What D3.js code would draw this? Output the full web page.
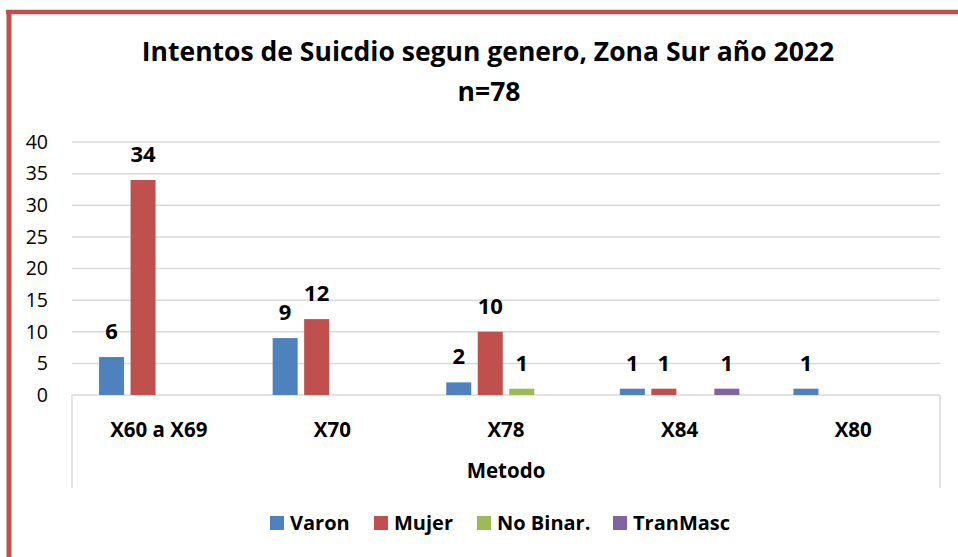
<!DOCTYPE html>
<html>
  <head>
    <meta charset="utf-8">
    <title>Intentos de Suicidio</title>
    <script src="https://d3js.org/d3.v7.min.js"></script>
    <style>
      body { margin: 0; background: #fff; }
      text { font-family: "Open Sans", Lato, sans-serif; }
    </style>
  </head>
  <body>
    <div id="chart"></div>
    <script>
      // data
      const categories = ['X60 a X69', 'X70', 'X78', 'X84', 'X80'];
      const seriesNames = ['Varon', 'Mujer', 'No Binar.', 'TranMasc'];
      const varon = [6, 9, 2, 1, 1];
      const mujer = [34, 12, 10, 1, 0];
      const noBinar = [0, 0, 1, 0, 0];
      const tranMasc = [0, 0, 0, 1, 0];
      const yTicks = [0, 5, 10, 15, 20, 25, 30, 35, 40];
      const colors = ['#4F81BD', '#C0504D', '#9BBB59', '#8064A2'];

      const seriesValues = [varon, mujer, noBinar, tranMasc];
      const rows = [];
      categories.forEach((c, i) => {
        seriesNames.forEach((s, j) => {
          rows.push({ cat: c, series: s, value: seriesValues[j][i], color: colors[j] });
        });
      });

      const width = 958, height = 557;
      const plotLeft = 72, plotRight = 940, plotTop = 142, plotBottom = 395;

      const svg = d3.select('#chart')
        .append('svg')
        .attr('width', width)
        .attr('height', height);

      // outer frame (red on left and top)
      svg.append('line').attr('x1', 6).attr('x2', width).attr('y1', 12).attr('y2', 12)
        .attr('stroke', '#C0504D').attr('stroke-width', 4.5);
      svg.append('line').attr('x1', 9).attr('x2', 9).attr('y1', 10).attr('y2', height)
        .attr('stroke', '#C0504D').attr('stroke-width', 5);

      // title
      svg.append('text').attr('x', 488).attr('y', 61)
        .attr('text-anchor', 'middle').attr('font-size', 26.5).attr('font-weight', 'bold')
        .text('Intentos de Suicdio segun genero, Zona Sur año 2022');
      svg.append('text').attr('x', 489).attr('y', 101)
        .attr('text-anchor', 'middle').attr('font-size', 26.5).attr('font-weight', 'bold')
        .text('n=78');

      const x0 = d3.scaleBand().domain(categories).range([plotLeft, plotRight]).padding(0);
      const groupW = 119.5;
      const x1 = d3.scaleBand().domain(seriesNames)
        .range([(x0.bandwidth() - groupW) / 2, (x0.bandwidth() + groupW) / 2])
        .paddingInner(0.206).paddingOuter(0);
      const y = d3.scaleLinear().domain([0, 40]).range([plotBottom, plotTop]);

      // gridlines
      svg.append('g')
        .selectAll('line')
        .data(yTicks.filter(d => d > 0))
        .enter()
        .append('line')
        .attr('x1', plotLeft).attr('x2', plotRight)
        .attr('y1', d => y(d)).attr('y2', d => y(d))
        .attr('stroke', '#D9D9D9').attr('stroke-width', 1.5);

      // y axis labels
      const yAxis = svg.append('g')
        .attr('transform', 'translate(' + plotLeft + ',0)')
        .call(d3.axisLeft(y).tickValues(yTicks).tickSize(0).tickPadding(24));
      yAxis.select('.domain').remove();
      yAxis.selectAll('text')
        .attr('font-size', 19.5).attr('fill', '#000')
        .style('font-family', '"Open Sans", Lato, sans-serif');

      // x axis: baseline plus outer brackets
      const xAxis = svg.append('g');
      xAxis.append('line').attr('x1', plotLeft).attr('x2', plotRight)
        .attr('y1', plotBottom).attr('y2', plotBottom)
        .attr('stroke', '#D9D9D9').attr('stroke-width', 1.5);
      [plotLeft, plotRight].forEach(px => {
        xAxis.append('line').attr('x1', px).attr('x2', px).attr('y1', plotBottom).attr('y2', 488)
          .attr('stroke', '#D9D9D9').attr('stroke-width', 1.5);
      });
      xAxis.selectAll('.cat')
        .data(categories)
        .enter()
        .append('text')
        .attr('class', 'cat')
        .attr('x', d => x0(d) + x0.bandwidth() / 2)
        .attr('y', 437)
        .attr('text-anchor', 'middle')
        .attr('font-size', 20.5).attr('font-weight', 'bold')
        .text(d => d);
      svg.append('text').attr('x', (plotLeft + plotRight) / 2).attr('y', 478)
        .attr('text-anchor', 'middle').attr('font-size', 20.5).attr('font-weight', 'bold')
        .text('Metodo');

      // bars
      svg.append('g')
        .selectAll('rect')
        .data(rows.filter(d => d.value > 0))
        .enter()
        .append('rect')
        .attr('x', d => x0(d.cat) + x1(d.series))
        .attr('y', d => y(d.value))
        .attr('width', x1.bandwidth())
        .attr('height', d => y(0) - y(d.value))
        .attr('fill', d => d.color);

      // value labels
      svg.append('g')
        .selectAll('text')
        .data(rows.filter(d => d.value > 0))
        .enter()
        .append('text')
        .attr('x', d => x0(d.cat) + x1(d.series) + x1.bandwidth() / 2)
        .attr('y', d => y(d.value) - 18)
        .attr('text-anchor', 'middle')
        .attr('font-size', 22).attr('font-weight', 'bold')
        .text(d => d.value);

      // legend
      const legendX = [270, 374, 477, 613];
      const legend = svg.append('g')
        .selectAll('g')
        .data(seriesNames)
        .enter()
        .append('g')
        .attr('transform', (d, i) => 'translate(' + legendX[i] + ',516)');
      legend.append('rect').attr('width', 14).attr('height', 14)
        .attr('fill', (d, i) => colors[i]);
      legend.append('text').attr('x', 20).attr('y', 14)
        .attr('font-size', 20).attr('font-weight', 'bold')
        .text(d => d);
    </script>
  </body>
</html>
